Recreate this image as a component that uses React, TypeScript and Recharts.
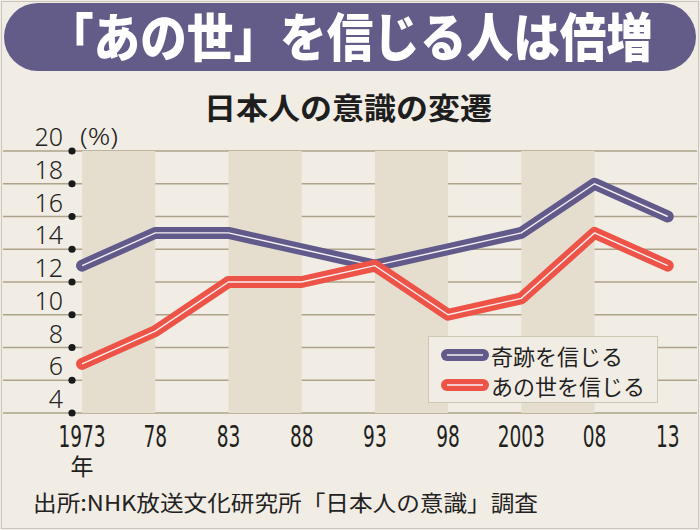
import { CartesianGrid, Line, LineChart, ReferenceArea, XAxis, YAxis } from "recharts";

const years = [1973, 1978, 1983, 1988, 1993, 1998, 2003, 2008, 2013];
const yearLabels = ["1973", "78", "83", "88", "93", "98", "2003", "08", "13"];
const miracle = [13, 15, 15, 14, 13, 14, 15, 18, 16];
const afterlife = [7, 9, 12, 12, 13, 10, 11, 15, 13];
const yTicks = [4, 6, 8, 10, 12, 14, 16, 18, 20];
const bands = [
  [1973, 1978],
  [1983, 1988],
  [1993, 1998],
  [2003, 2008],
];
const seriesNames = ["奇跡を信じる", "あの世を信じる"];
const seriesColors = ["#615a8b", "#ee5347"];

const data = years.map((year, i) => ({
  year,
  miracle: miracle[i],
  afterlife: afterlife[i],
}));

const JP = '"Noto Sans CJK JP", "Noto Sans", sans-serif';
const NARROW = '"Liberation Sans Narrow", "DejaVu Sans Condensed", sans-serif';

function YTick(props: any) {
  const { y, payload } = props;
  return (
    <g>
      <circle cx={72} cy={y} r={3.6} fill="#1a1a1a" />
      <text
        x={63}
        y={y - 5}
        textAnchor="end"
        fontSize={25}
        fontWeight={300}
        fontFamily='"Noto Sans", sans-serif'
        fill="#222"
      >
        {payload.value}
      </text>
    </g>
  );
}

function XTick(props: any) {
  const { x, y, payload, index } = props;
  const label = yearLabels[index] ?? String(payload.value);
  return (
    <g>
      <text
        x={x}
        y={y + 26}
        textAnchor="middle"
        fontSize={30}
        fontFamily={NARROW}
        fill="#1f1f1f"
        textLength={label.length * 11.8}
        lengthAdjust="spacingAndGlyphs"
      >
        {label}
      </text>
      {index === 0 && (
        <text x={x} y={y + 54} textAnchor="middle" fontSize={23} fontFamily={JP} fill="#1f1f1f">
          年
        </text>
      )}
    </g>
  );
}

function LegendBox() {
  return (
    <div
      style={{
        position: "absolute",
        left: 428,
        top: 336,
        width: 230,
        height: 67,
        boxSizing: "border-box",
        background: "#f2ede4",
        border: "1px solid #cfc7b6",
        padding: "3px 0 0 10px",
      }}
    >
      {seriesNames.map((name, i) => (
        <div key={name} style={{ display: "flex", alignItems: "center", height: 30 }}>
          <svg width={52} height={16}>
            <line x1={8} y1={8} x2={44} y2={8} stroke={seriesColors[i]} strokeWidth={12} strokeLinecap="round" />
            <line x1={8} y1={8} x2={44} y2={8} stroke="#f6f0f2" strokeWidth={1.4} />
          </svg>
          <span style={{ fontFamily: JP, fontSize: 22, color: "#1f1f1f", lineHeight: "30px" }}>{name}</span>
        </div>
      ))}
    </div>
  );
}

export default function App() {
  return (
    <div style={{ position: "absolute", left: 0, top: 0, width: 700, height: 530, background: "#f2ede4" }}>
      <div
        style={{
          position: "absolute",
          left: 1,
          top: 1,
          width: 696,
          height: 526,
          border: "1px solid #c9c6c0",
        }}
      />
      <svg width={700} height={160} style={{ position: "absolute", left: 0, top: 0 }}>
        <rect x={4} y={3} width={692} height={68} rx={34} fill="#635b88" />
        <text
          x={350}
          y={57}
          textAnchor="middle"
          fontSize={52}
          fontWeight={900}
          fontFamily={JP}
          fill="#ffffff"
          textLength={606}
          lengthAdjust="spacingAndGlyphs"
        >
          「あの世」を信じる人は倍増
        </text>
        <text
          x={348}
          y={119}
          textAnchor="middle"
          fontSize={30}
          fontWeight={700}
          fontFamily={JP}
          fill="#1e1e1e"
          textLength={288}
          lengthAdjust="spacingAndGlyphs"
        >
          日本人の意識の変遷
        </text>
        <text
          x={80}
          y={145}
          fontSize={23}
          fontWeight={300}
          fontFamily='"Noto Sans", sans-serif'
          fill="#222"
          textLength={38}
          lengthAdjust="spacingAndGlyphs"
        >
          (%)
        </text>
      </svg>
      <div style={{ position: "absolute", left: 0, top: 0 }}>
        <LineChart width={700} height={530} data={data} margin={{ top: 151, right: 3, bottom: 67, left: 2 }}>
          {bands.map(([a, b]) => (
            <ReferenceArea key={a} x1={a} x2={b} y1={4} y2={20} fill="#e5dece" fillOpacity={1} stroke="none" />
          ))}
          <CartesianGrid vertical={false} stroke="#ada28a" strokeWidth={1.6} />
          <XAxis
            dataKey="year"
            type="number"
            domain={[1967.6, 2015]}
            ticks={years}
            interval={0}
            height={50}
            axisLine={false}
            tickLine={false}
            tick={<XTick />}
          />
          <YAxis
            type="number"
            domain={[4, 20]}
            ticks={yTicks}
            interval={0}
            width={1}
            axisLine={false}
            tickLine={false}
            tick={<YTick />}
          />
          <Line
            dataKey="miracle"
            name={seriesNames[0]}
            stroke={seriesColors[0]}
            strokeWidth={12}
            strokeLinecap="round"
            strokeLinejoin="round"
            dot={false}
            activeDot={false}
            isAnimationActive={false}
          />
          <Line
            dataKey="miracle"
            stroke="#f6f0f2"
            strokeWidth={1.4}
            dot={false}
            activeDot={false}
            isAnimationActive={false}
          />
          <Line
            dataKey="afterlife"
            name={seriesNames[1]}
            stroke={seriesColors[1]}
            strokeWidth={12}
            strokeLinecap="round"
            strokeLinejoin="round"
            dot={false}
            activeDot={false}
            isAnimationActive={false}
          />
          <Line
            dataKey="afterlife"
            stroke="#f6f0f2"
            strokeWidth={1.4}
            dot={false}
            activeDot={false}
            isAnimationActive={false}
          />
        </LineChart>
      </div>
      <LegendBox />
      <svg width={700} height={60} style={{ position: "absolute", left: 0, top: 470 }}>
        <text
          x={33}
          y={41}
          fontSize={22}
          fontFamily={JP}
          fill="#222"
          textLength={505}
          lengthAdjust="spacingAndGlyphs"
        >
          出所:NHK放送文化研究所「日本人の意識」調査
        </text>
      </svg>
    </div>
  );
}
